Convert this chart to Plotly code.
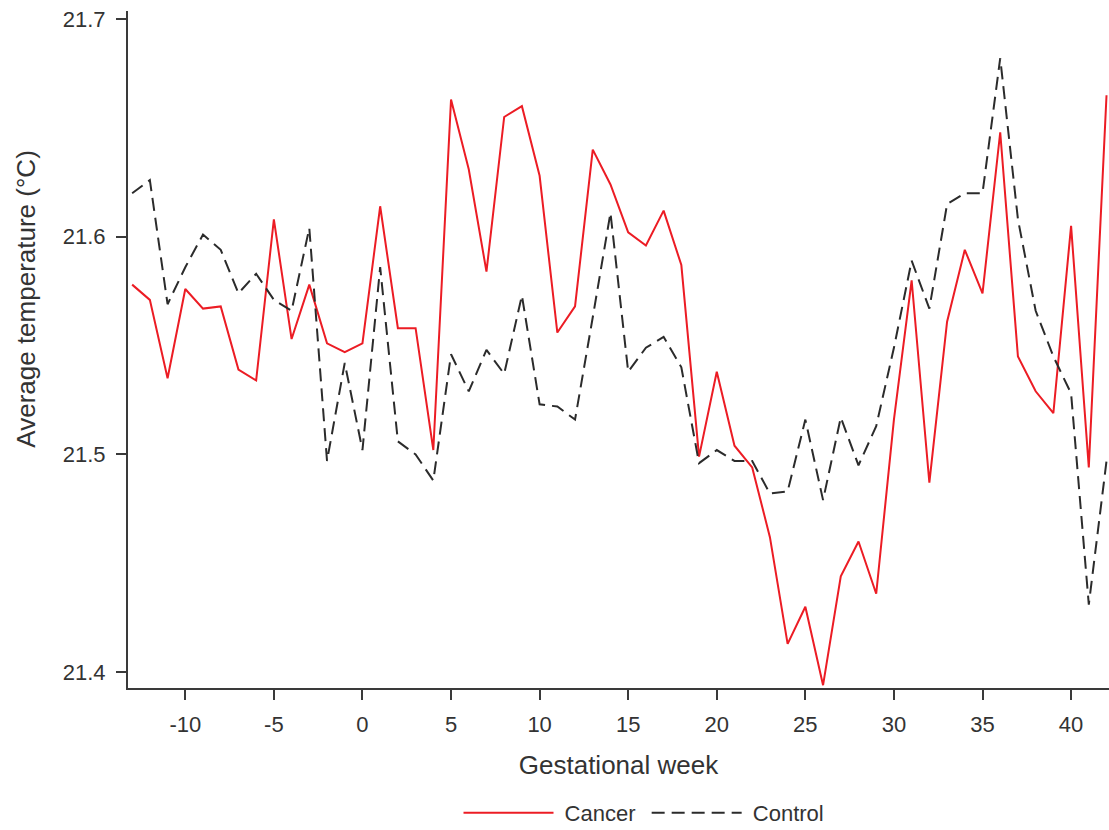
import plotly.graph_objects as go

# Gestational weeks (relative to conception, pre-pregnancy weeks negative)
weeks = list(range(-13, 43))

# Average temperature (°C) by gestational week
cancer = [
    21.578, 21.571, 21.535, 21.576, 21.567, 21.568, 21.539, 21.534, 21.608, 21.553,
    21.578, 21.551, 21.547, 21.551, 21.614, 21.558, 21.558, 21.502, 21.663, 21.631,
    21.584, 21.655, 21.660, 21.628, 21.556, 21.568, 21.640, 21.624, 21.602, 21.596,
    21.612, 21.587, 21.499, 21.538, 21.504, 21.494, 21.462, 21.413, 21.430, 21.394,
    21.444, 21.460, 21.436, 21.516, 21.580, 21.487, 21.561, 21.594, 21.574, 21.648,
    21.545, 21.529, 21.519, 21.605, 21.494, 21.665,
]
control = [
    21.620, 21.626, 21.569, 21.586, 21.601, 21.594, 21.574, 21.583, 21.571, 21.566,
    21.604, 21.497, 21.542, 21.502, 21.586, 21.506, 21.500, 21.488, 21.546, 21.529,
    21.548, 21.537, 21.573, 21.523, 21.522, 21.516, 21.563, 21.611, 21.538, 21.549,
    21.554, 21.540, 21.496, 21.502, 21.497, 21.497, 21.482, 21.483, 21.516, 21.479,
    21.517, 21.495, 21.513, 21.549, 21.589, 21.567, 21.615, 21.620, 21.620, 21.682,
    21.608, 21.566, 21.545, 21.528, 21.431, 21.497,
]

x_ticks = [-10, -5, 0, 5, 10, 15, 20, 25, 30, 35, 40]
x_tick_labels = [str(v) for v in x_ticks]  # plain hyphen for negatives
y_ticks = [21.4, 21.5, 21.6, 21.7]
y_tick_labels = [f"{v:.1f}" for v in y_ticks]

FONT = "Liberation Sans, Arial, sans-serif"
TEXT_COLOR = "#333333"
AXIS_COLOR = "#3a3a3a"

fig = go.Figure()
fig.add_trace(go.Scatter(
    x=weeks, y=cancer, mode="lines", name=" Cancer ",
    line=dict(color="#ec1c24", width=2),
))
fig.add_trace(go.Scatter(
    x=weeks, y=control, mode="lines", name=" Control",
    line=dict(color="#2b2b2b", width=2, dash="13px,7px"),
))

axis_common = dict(
    showline=True, linecolor=AXIS_COLOR, linewidth=2,
    ticks="outside", tickcolor=AXIS_COLOR, tickwidth=2, ticklen=10,
    showgrid=False, zeroline=False, mirror=False, automargin=False,
    tickfont=dict(family=FONT, size=22, color=TEXT_COLOR),
)

fig.update_layout(
    width=1109, height=830,
    margin=dict(l=128, r=0, t=11, b=142, autoexpand=False),
    paper_bgcolor="white", plot_bgcolor="white",
    font=dict(family=FONT, color=TEXT_COLOR),
    xaxis=dict(
        range=[-13.234, 42.14], tickvals=x_ticks, ticktext=x_tick_labels,
        ticklabelstandoff=6,
        title=dict(text="Gestational week", font=dict(family=FONT, size=26, color=TEXT_COLOR), standoff=19),
        **axis_common,
    ),
    yaxis=dict(
        range=[21.3927, 21.7037], tickvals=y_ticks, ticktext=y_tick_labels,
        ticklabelstandoff=6,
        **axis_common,
    ),
    annotations=[dict(
        text="Average temperature (°C)", textangle=-90,
        xref="paper", yref="paper", x=-0.104, y=0.575,
        xanchor="center", yanchor="middle", showarrow=False,
        font=dict(family=FONT, size=26, color=TEXT_COLOR),
    )],
    legend=dict(
        orientation="h", x=0.526, xanchor="center", y=-0.1846, yanchor="middle",
        font=dict(family=FONT, size=22, color=TEXT_COLOR),
        itemwidth=90, bgcolor="rgba(0,0,0,0)",
    ),
    showlegend=True,
)

fig.write_html("out.html")
